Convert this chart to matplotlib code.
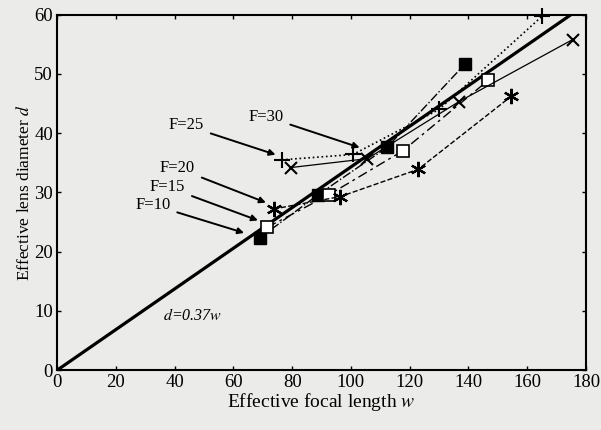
import numpy as np
import matplotlib.pyplot as plt

# effective focal length w / lens diameter d for each F value
w_f10 = [68.9, 88.8, 112.3, 138.9]
d_f10 = [22.3, 29.6, 37.6, 51.7]
w_f15 = [71.5, 92.5, 117.6, 146.7]
d_f15 = [24.1, 29.6, 37.0, 48.9]
w_f20 = [73.7, 96.4, 122.9, 154.5]
d_f20 = [27.2, 29.3, 33.9, 46.2]
w_f25 = [76.5, 100.7, 130.0, 165.0]
d_f25 = [35.5, 36.4, 44.0, 59.7]
w_f30 = [79.6, 105.6, 136.7, 175.5]
d_f30 = [34.2, 35.7, 45.3, 55.8]

# fitted line through the origin
fit_w = [0, 180]
fit_d = [0, 0.343 * 180]

x_ticks = [0, 20, 40, 60, 80, 100, 120, 140, 160, 180]
y_ticks = [0, 10, 20, 30, 40, 50, 60]

paper = '#ebebea'
plt.rcParams['font.family'] = ['Liberation Serif', 'DejaVu Serif']
plt.rcParams['mathtext.fontset'] = 'stix'

fig = plt.figure(figsize=(6.01, 4.30), dpi=100, facecolor=paper)
ax = fig.add_axes([0.095, 0.139, 0.880, 0.827], facecolor=paper)

ax.plot(fit_w, fit_d, color='black', lw=2.3, zorder=3)

ax.plot(w_f10, d_f10, '-.', color='black', lw=1.0, marker='s', ms=8,
        mfc='black', mec='black', zorder=4)
ax.plot(w_f15, d_f15, '-.', color='black', lw=1.0, marker='s', ms=9,
        mfc='white', mec='black', mew=1.2, zorder=4, dashes=(7, 3, 2, 3))
ax.plot(w_f20, d_f20, '--', color='black', lw=1.0, marker=(6, 2, 0), ms=11,
        mec='black', mew=1.6, zorder=4)
ax.plot(w_f25, d_f25, ':', color='black', lw=1.2, marker='+', ms=11,
        mec='black', mew=1.5, zorder=4, clip_on=False)
ax.plot(w_f30, d_f30, '-', color='black', lw=0.9, marker='x', ms=9,
        mec='black', mew=1.5, zorder=4)

arrow = dict(arrowstyle='-|>', color='black', lw=1.4,
             mutation_scale=9, shrinkA=3, shrinkB=1)
labels = [('F=10', (32.6, 27.9), (64.1, 23.1)),
          ('F=15', (37.6, 30.9), (68.8, 25.2)),
          ('F=20', (41.0, 34.1), (71.5, 28.2)),
          ('F=25', (44.0, 41.3), (74.8, 36.3)),
          ('F=30', (71.1, 42.8), (103.4, 37.5))]
for txt, xyt, xy in labels:
    ax.annotate(txt, xy=xy, xytext=xyt, ha='center', va='center',
                fontsize=12, arrowprops=arrow)

ax.text(36.2, 9.2, r'$d$=0.37$w$', fontsize=11.5, style='italic',
        ha='left', va='center')

ax.set_xlim(0, 180)
ax.set_ylim(0, 60)
ax.set_xticks(x_ticks)
ax.set_yticks(y_ticks)
ax.tick_params(direction='in', top=True, right=True, length=3,
               width=1, labelsize=13.5, pad=3)
for s in ax.spines.values():
    s.set_linewidth(1.5)

ax.set_xlabel(r'Effective focal length $w$', fontsize=14, labelpad=0)
ax.set_ylabel(r'Effective lens diameter $d$', fontsize=12.5, labelpad=1)

fig.savefig('out.png', dpi=100, facecolor=paper)
